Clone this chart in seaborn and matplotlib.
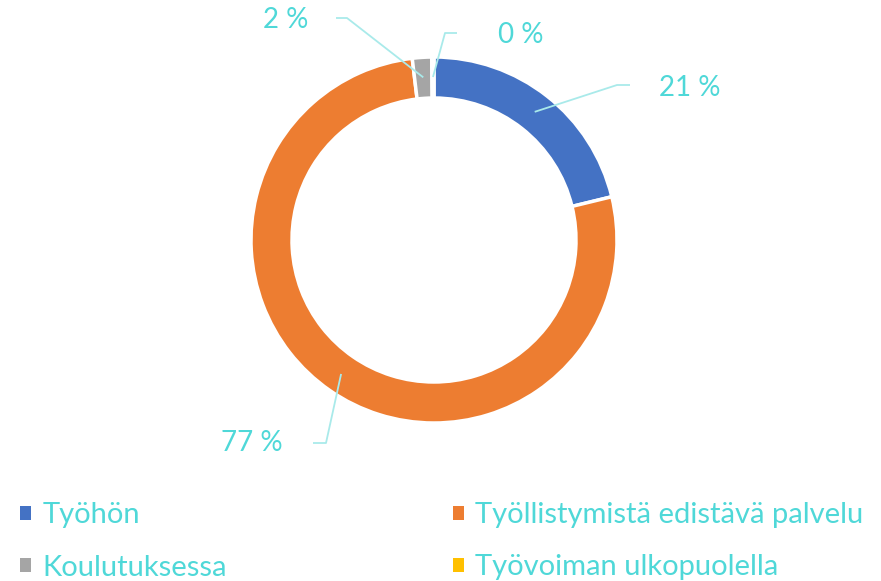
import numpy as np
import seaborn as sns
import matplotlib.pyplot as plt
from matplotlib.patches import Patch

sns.set_theme(style="white")
plt.rcParams['font.family'] = ['Lato', 'DejaVu Sans']

# data
categories = ["Työhön", "Työllistymistä edistävä palvelu", "Koulutuksessa", "Työvoiman ulkopuolella"]
shares = [21.2, 76.9, 1.7, 0.2]
pct_labels = ["21 %", "77 %", "2 %", "0 %"]
colors = ["#4472C4", "#ED7D31", "#A5A5A5", "#FFC000"]

label_col = "#4FD8D8"
line_col = "#A9EAEA"

W, H = 881, 581
fig = plt.figure(figsize=(W / 100, H / 100), dpi=100)
ax = fig.add_axes([0, 0, 1, 1])

cx, cy, R = 434, H - 240, 183
ax.pie(shares, colors=colors, startangle=90, counterclock=False,
       center=(cx, cy), radius=R, frame=True,
       wedgeprops=dict(width=41, edgecolor="white", linewidth=2.5))
ax.set_xlim(0, W)
ax.set_ylim(0, H)
ax.set_aspect("equal")
ax.axis("off")

# leader lines: anchor in middle of ring, elbow, end near label
cum = np.cumsum([0] + shares[:-1])
mids = cum + np.array(shares) / 2
ang = np.deg2rad(mids / 100 * 360)
ar = R - 20
layout = [  # elbow, end, text position (pixel coords from top)
    ((617, 85), (630, 85), (690, 88)),
    ((326, 443), (313, 443), (252, 443)),
    ((347, 18), (336, 18), (286, 20)),
    ((445, 33), (457, 33), (521, 35)),
]
for i, (elbow, end, tpos) in enumerate(layout):
    ax_ = cx + ar * np.sin(ang[i])
    ay_ = cy + ar * np.cos(ang[i])
    ax.plot([ax_, elbow[0], end[0]], [ay_, H - elbow[1], H - end[1]],
            color=line_col, lw=1.3, solid_capstyle="butt")
    ax.text(tpos[0], H - tpos[1], pct_labels[i], color=label_col, fontsize=20,
            ha="center", va="center")

# legend fills column-wise, so reorder to get row-wise order
order = [0, 2, 1, 3]
handles = [Patch(facecolor=colors[i], edgecolor="none") for i in order]
leg = ax.legend(handles, [categories[i] for i in order], ncol=2, loc="upper left",
                bbox_to_anchor=(-6 / W, 1 - 476 / H), frameon=False,
                fontsize=21, handlelength=0.38, handleheight=0.38,
                handletextpad=0.38, columnspacing=7.75, labelspacing=0.9)
for t in leg.get_texts():
    t.set_color(label_col)

fig.savefig("out.png", dpi=100)
